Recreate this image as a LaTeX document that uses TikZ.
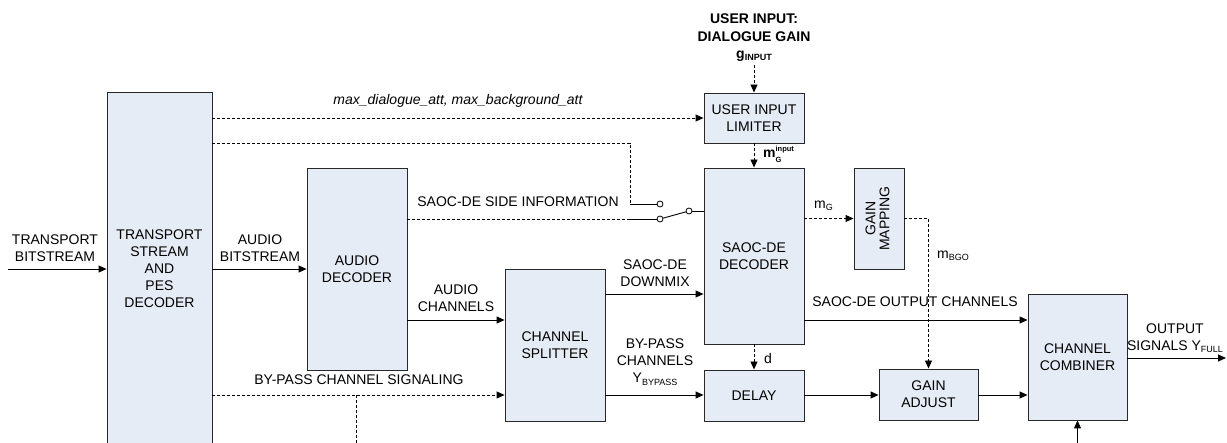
\documentclass[tikz,border=0pt]{standalone}
\usepackage{fontspec}
\setmainfont{Liberation Sans}
\usetikzlibrary{arrows.meta}
\definecolor{boxfill}{RGB}{230,236,246}
\definecolor{boxline}{RGB}{40,40,40}
\newcommand{\lsub}[1]{\raisebox{-2.5pt}{\fontsize{9}{9}\selectfont #1}}
\begin{document}
\begin{tikzpicture}[x=1pt,y=-1pt,font=\fontsize{14}{17}\selectfont,
 blk/.style={draw=boxline,fill=boxfill,line width=0.9pt,rectangle,inner sep=0pt,align=center},
 wire/.style={line width=0.9pt,draw=black},
 arr/.style={wire,-{Triangle[length=8pt,width=7pt]}},
 dsh/.style={dash pattern=on 3pt off 2pt},
 lbl/.style={align=center,inner sep=0pt},
 sw/.style={circle,draw,fill=white,line width=0.8pt,minimum size=6pt,inner sep=0pt}]
\useasboundingbox (0,0) rectangle (1227,443);
\clip (0,0) rectangle (1227,443);

% blocks
\node[blk,minimum width=105,minimum height=353] (ts) at (159.5,268.5) {TRANSPORT\\STREAM\\AND\\PES\\DECODER};
\node[blk,minimum width=100,minimum height=202] (ad) at (357,269) {AUDIO\\DECODER};
\node[blk,minimum width=100,minimum height=50] (uil) at (754,118) {USER INPUT\\LIMITER};
\node[blk,minimum width=100,minimum height=176] (dec) at (754,256) {SAOC-DE\\DECODER};
\node[blk,minimum width=50,minimum height=101] (gm) at (879,218.5) {\rotatebox{90}{\begin{tabular}{@{}c@{}}GAIN\\[-3pt]MAPPING\end{tabular}}};
\node[blk,minimum width=100,minimum height=152] (cs) at (555,345) {CHANNEL\\SPLITTER};
\node[blk,minimum width=100,minimum height=51] (dl) at (754,395.5) {DELAY};
\node[blk,minimum width=99,minimum height=51] (ga) at (928.5,394.5) {GAIN\\ADJUST};
\node[blk,minimum width=99,minimum height=126] (cc) at (1077.5,357) {CHANNEL\\COMBINER};

% switch
\node[sw] (swA) at (660,204) {};
\node[sw] (swB) at (660,219) {};
\node[sw] (swC) at (689,211) {};

% coordinates
\coordinate (tin) at (8,269);
\coordinate (k1) at (630,143);
\coordinate (k2) at (630,204);
\coordinate (k3) at (630,219);
\coordinate (gin) at (754,65);
\coordinate (yout) at (1226,358);
\coordinate (cbot) at (1077.5,443);
\coordinate (bp) at (356,395);
\coordinate (bpd) at (356,443);

% labels
\node[lbl] (l1) at (55,248) {TRANSPORT\\BITSTREAM};
\node[lbl] (l2) at (260,248) {AUDIO\\BITSTREAM};
\node[lbl] (l3) at (458,101) {\itshape max\_dialogue\_att, max\_background\_att};
\node[lbl] (l4) at (518,202) {SAOC-DE SIDE INFORMATION};
\node[lbl,font=\fontsize{14}{18}\selectfont\bfseries] (l5) at (754,28) {USER INPUT:\\DIALOGUE GAIN};
\node[lbl,font=\fontsize{14}{17}\selectfont\bfseries] (l6) at (754,56) {g\lsub{\bfseries INPUT}};
\node[lbl,anchor=west,font=\fontsize{14}{17}\selectfont\bfseries] (l7) at (763,155) {m\raisebox{0.5pt}{\fontsize{7.5}{10.5}\selectfont\bfseries\begin{tabular}{@{}l@{}}input\\G\end{tabular}}};
\node[lbl,anchor=west] (l8) at (814,206) {m\lsub{G}};
\node[lbl,anchor=west] (l9) at (937,256) {m\lsub{BGO}};
\node[lbl] (l10) at (915,302) {SAOC-DE OUTPUT CHANNELS};
\node[lbl] (l11) at (1175,338) {OUTPUT\\SIGNALS Y\lsub{FULL}};
\node[lbl] (l12) at (456,298) {AUDIO\\CHANNELS};
\node[lbl] (l13) at (655,273) {SAOC-DE\\DOWNMIX};
\node[lbl] (l14) at (655,362) {BY-PASS\\CHANNELS\\Y\lsub{BYPASS}};
\node[lbl,anchor=west] (l15) at (764,358) {d};
\node[lbl] (l16) at (359,380) {BY-PASS CHANNEL SIGNALING};

% connectors
\draw[arr] (tin) -- (tin -| ts.west);
\draw[arr] (ts.east |- ad.west) -- (ad.west);
\draw[arr,dsh] (ts.east |- uil.west) -- (uil.west);
\draw[wire,dsh] (ts.east |- k1) -- (k1) -- (k2);
\draw[wire] (k2) -- (swA);
\draw[wire,dsh] (ad.east |- k3) -- (k3);
\draw[wire] (k3) -- (swB);
\draw[wire] (swB) -- (swC);
\draw[wire] (swC) -- (swC -| dec.west);
\draw[arr,dsh] (gin) -- (uil.north);
\draw[arr,dsh] (uil.south) -- (dec.north);
\draw[arr,dsh] (dec.east |- gm.west) -- (gm.west);
\draw[arr,dsh] (gm.east) -| (ga.north);
\draw[arr] (dec.east |- 0,320) -- (cc.west |- 0,320);
\draw[arr] (cc.east |- yout) -- (yout);
\draw[arr] (cbot) -- (cc.south);
\draw[arr] (ad.east |- 0,320) -- (cs.west |- 0,320);
\draw[arr,dsh] (ts.east |- bp) -- (cs.west |- bp);
\draw[wire,dsh] (bp) -- (bpd);
\draw[arr] (cs.east |- 0,294) -- (dec.west |- 0,294);
\draw[arr] (cs.east |- 0,395) -- (dl.west |- 0,395);
\draw[arr,dsh] (dec.south) -- (dl.north);
\draw[arr] (dl.east |- 0,395) -- (ga.west |- 0,395);
\draw[arr] (ga.east |- 0,395) -- (cc.west |- 0,395);
\end{tikzpicture}
\end{document}
